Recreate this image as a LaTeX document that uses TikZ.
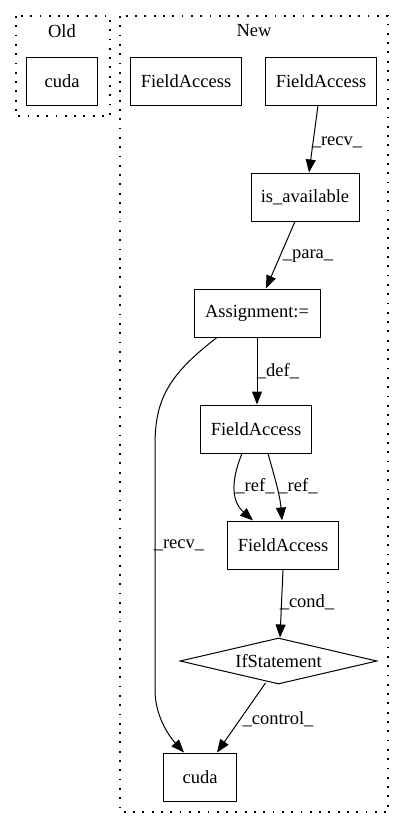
\documentclass[tikz,border=0pt]{standalone}
\usepackage{fontspec}
\setmainfont{Liberation Serif}
\usetikzlibrary{arrows.meta,shapes.geometric}
\begin{document}
\begin{tikzpicture}[x=1pt,y=-1pt,
  lbl/.style={font=\fontsize{18.5}{20}\selectfont, inner sep=0pt},
  box/.style={draw, line width=1pt, minimum height=48pt, inner sep=0pt,
    font=\fontsize{18.5}{20}\selectfont},
  cond/.style={draw, line width=1pt, diamond, aspect=4.3, minimum width=197pt,
    minimum height=46pt, inner sep=0pt, font=\fontsize{18.5}{20}\selectfont},
  cluster/.style={draw, line width=1.4pt, dash pattern=on 1.8pt off 7.5pt},
  edge/.style={draw, line width=1pt, -{Triangle[length=13pt,width=10pt]}},
  elbl/.style={lbl}]
\useasboundingbox (0,0) rectangle (404,828);

% clusters
\draw[cluster] (16,16) rectangle (110,116);
\node[lbl] (oldtitle) at (62,31) {Old};
\draw[cluster] (120,16) rectangle (388,812);
\node[lbl] (newtitle) at (254,31) {New};

% nodes
\node[box, minimum width=71pt] (oldcuda) at (62,81) {cuda};
\node[box, minimum width=111pt] (fa1) at (186,81) {FieldAccess};
\node[box, minimum width=111pt] (fa2) at (321,81) {FieldAccess};
\node[box, minimum width=108pt] (isa) at (305,197) {is\_available};
\node[box, minimum width=126pt] (asg) at (257,313) {Assignment:=};
\node[box, minimum width=111pt] (fa3) at (256,429) {FieldAccess};
\node[box, minimum width=111pt] (fa4) at (283,545) {FieldAccess};
\node[cond] (ifs) at (278.5,661) {IfStatement};
\node[box, minimum width=73pt] (cuda) at (200,777) {cuda};

% connectors
\draw[edge] ([xshift=-3pt]fa2.south) -- ([xshift=4pt]isa.north);
\node[elbl] (l1) at (337,142) {\_recv\_};

\draw[edge] ([xshift=-10pt]isa.south) -- ([xshift=9pt]asg.north);
\node[elbl] (l2) at (308,256) {\_para\_};

\draw[edge] (asg.south) -- ([xshift=1pt]fa3.north);
\node[elbl] (l3) at (278,371) {\_def\_};

\draw[edge] ([xshift=-40pt]asg.south) .. controls (168,375) and (155,400) .. (155,445)
  -- (155,690) .. controls (155,715) and (168,735) .. ([xshift=-16pt]cuda.north);
\node[elbl] (l4) at (179,545) {\_recv\_};

\draw[edge] ([xshift=-14pt]fa3.south) .. controls (232,478) and (230,500) .. ([xshift=-30pt]fa4.north);
\draw[edge] ([xshift=12pt]fa3.south) .. controls (274,475) and (280,495) .. ([xshift=-1pt]fa4.north);
\node[elbl] (l5) at (255,486) {\_ref\_};
\node[elbl] (l6) at (298,486) {\_ref\_};

\draw[edge] (fa4.south) -- ([xshift=1.5pt]ifs.north);
\node[elbl] (l7) at (307,602) {\_cond\_};

\draw[edge] ([xshift=-13pt,yshift=1.5pt]ifs.south) -- ([xshift=17pt]cuda.north);
\node[elbl] (l8) at (278,719) {\_control\_};
\end{tikzpicture}
\end{document}
